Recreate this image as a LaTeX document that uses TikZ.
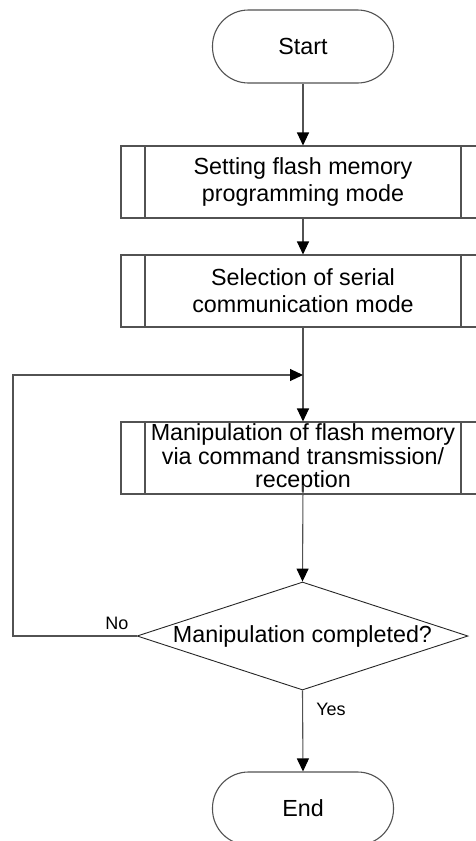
\documentclass[tikz,border=0pt]{standalone}
\usepackage{fontspec}
\setmainfont{Liberation Sans}
\usetikzlibrary{arrows.meta,shapes.geometric}
\begin{document}
\begin{tikzpicture}[x=1pt,y=-1pt,
  ln/.style={draw=black!68, line width=1.1pt},
  txt/.style={font=\fontsize{23.3}{27}\selectfont, align=center},
  term/.style={ln, txt, rounded corners=36pt, minimum width=181pt, minimum height=73pt, inner sep=0pt},
  subproc/.style={ln, txt, minimum width=364pt, minimum height=72pt, inner sep=0pt,
    path picture={
      \draw[ln] ([xshift=24pt]path picture bounding box.north west) -- ([xshift=24pt]path picture bounding box.south west);
      \draw[ln] ([xshift=-24pt]path picture bounding box.north east) -- ([xshift=-24pt]path picture bounding box.south east);
    }},
  decision/.style={draw=black!85, line width=0.9pt, txt, diamond, aspect=3.06, minimum width=331pt, minimum height=108pt, inner sep=0pt},
  conn/.style={ln, -{Triangle[width=12pt,length=13pt,color=black]}},
  lbl/.style={font=\fontsize{18}{20}\selectfont, inner sep=0pt}
]
\clip (0,0) rectangle (476,841);
\node[term] (start) at (303,46.5) {Start};
\node[subproc] (b1) at (303,182) {Setting flash memory\\programming mode};
\node[subproc] (b2) at (303,291) {Selection of serial\\communication mode};
\node[subproc, font=\fontsize{23.3}{23.5}\selectfont] (b3) at (303,458) {Manipulation of flash memory\\via command transmission/\\reception};
\node[decision] (dec) at (302.5,636) {Manipulation completed?};
\node[term] (end) at (303,808.5) {End};
\coordinate (m) at (303,375);
\coordinate (lc) at (13,636);
\coordinate (b3out) at (303,485);
\draw[conn] (start) -- (b1);
\draw[conn] (b1) -- (b2);
\draw[ln] (b2) -- (m);
\draw[conn] (m) -- (b3);
\draw[conn] (b3out) -- (dec.north);
\draw[conn] (dec.west) -- (lc) |- (m);
\draw[conn] (dec.south) -- (end.north);
\node[lbl] (no) at (117,623) {No};
\node[lbl] (yes) at (331,709) {Yes};
\end{tikzpicture}
\end{document}
